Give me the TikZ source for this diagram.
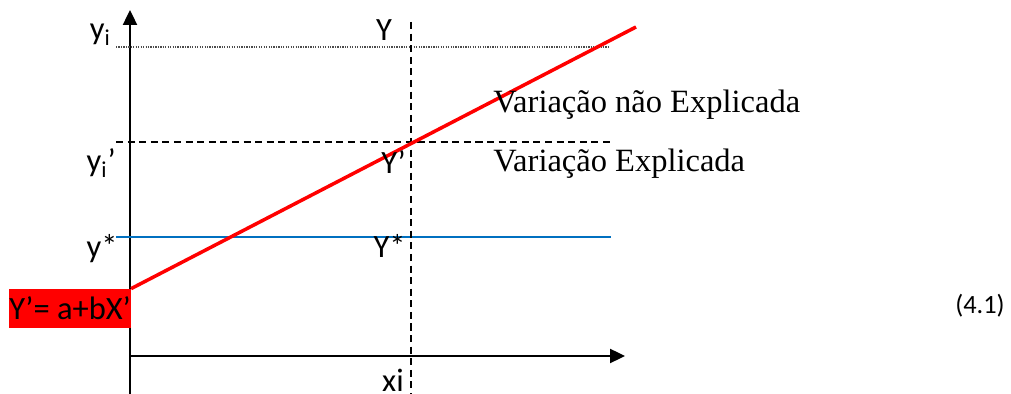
\documentclass[tikz,border=0pt]{standalone}
\usepackage{fontspec}
\setmainfont{Carlito}
\newfontfamily\timesfont{Liberation Serif}
\usetikzlibrary{arrows.meta}
\definecolor{lineblue}{RGB}{0,112,192}
\tikzset{
  lbl/.style={inner sep=0pt, font=\fontsize{18.5}{20}\selectfont},
  serif/.style={inner sep=0pt, font=\timesfont\fontsize{18.5}{20}\selectfont},
  axis/.style={-{Triangle[length=8.5pt, width=8pt]}, line width=1.1pt},
  guide/.style={dash pattern=on 4pt off 2.6pt, line width=0.85pt},
  dotline/.style={dash pattern=on 0.7pt off 0.7pt, line width=0.6pt, black!70},
  fitline/.style={red, line width=2pt},
  levelline/.style={lineblue, line width=0.85pt}
}

\begin{document}
\begin{tikzpicture}[x=0.02cm, y=-0.02cm]
\useasboundingbox (0,0) rectangle (1011,394);
% axes
\coordinate (ybot) at (130,400);
\coordinate (ytop) at (130,10);
\coordinate (orig) at (130,356);
\coordinate (xend) at (625,356);
\draw[axis] (ybot) -- (ytop);
\draw[axis] (orig) -- (xend);
% horizontal levels
\coordinate (yiL) at (116,47);
\coordinate (yiR) at (610,47);
\coordinate (ypL) at (116,142);
\coordinate (ypR) at (612,142);
\coordinate (ysL) at (116,237);
\coordinate (ysR) at (611,237);
\draw[dotline] (yiL) -- (yiR);
\draw[guide] (ypL) -- (ypR);
\draw[levelline] (ysL) -- (ysR);
% vertical at xi
\coordinate (xiT) at (411,22);
\coordinate (xiB) at (411,400);
\draw[guide] (xiT) -- (xiB);
% regression line
\node[lbl, fill=red, minimum width=120*0.02cm, minimum height=39*0.02cm] (eq) at (70,308.5) {Y’= a+bX’};
\coordinate (ltop) at (636,27);
\draw[fitline] (eq.north east) -- (ltop);
% labels
\node[lbl, anchor=base east] (yi) at (111,40) {y\textsubscript{i}};
\node[lbl, anchor=base east] (yip) at (116,172) {y\textsubscript{i}’};
\node[lbl, anchor=base east] (ys) at (118,258) {y*};
\node[lbl, anchor=base] (Y) at (384,41) {Y};
\node[lbl, anchor=base east] (Yp) at (406,174) {Y’};
\node[lbl, anchor=base east] (Ys) at (406,258) {Y*};
\node[lbl, anchor=base] (xi) at (393,392) {xi};
\node[serif, anchor=base west] (vne) at (493,113) {Variação não Explicada};
\node[serif, anchor=base west] (ve) at (493,172) {Variação Explicada};
\node[lbl, font=\fontsize{15}{18}\selectfont, anchor=base] (eqno) at (980,314) {(4.1)};
\end{tikzpicture}
\end{document}
